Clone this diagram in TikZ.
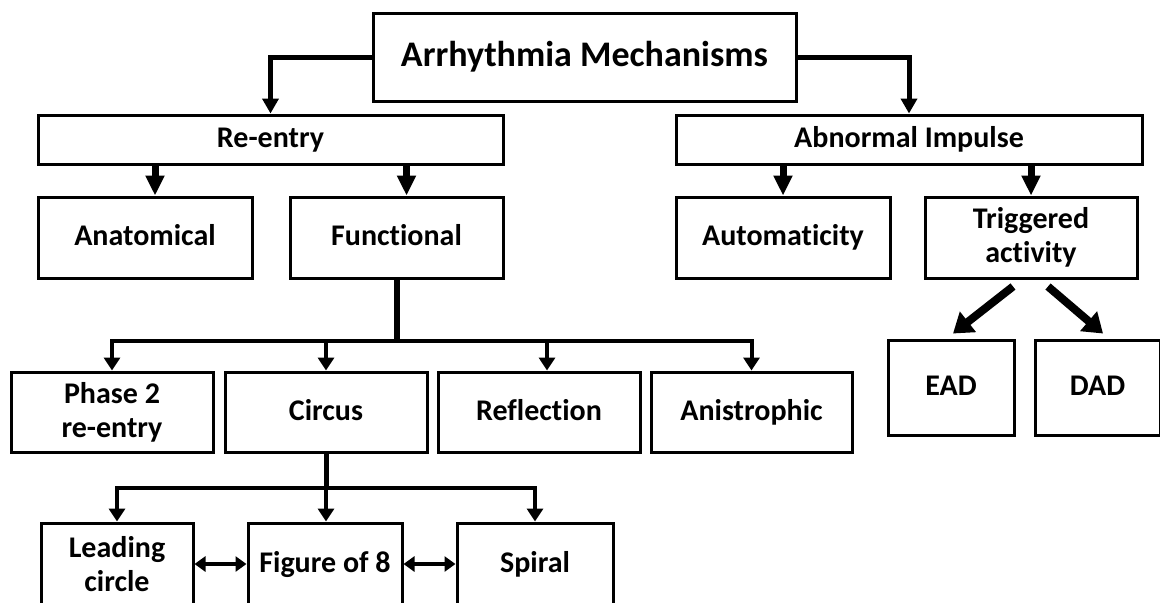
\documentclass[tikz,border=0pt]{standalone}
\usepackage{fontspec}
\setmainfont{Carlito}[Ligatures=NoCommon]
\usetikzlibrary{positioning,arrows.meta,calc}

\begin{document}
\begin{tikzpicture}[
  x=0.5pt,y=-0.5pt,
  box/.style={draw=black,line width=1.5pt,align=center,inner sep=0pt,fill=white,
    font=\bfseries\fontsize{15}{17}\selectfont},
  one/.style={text height=10.8pt,text depth=2.6pt},
  midbox/.style={box,minimum width=107pt,minimum height=40.5pt},
  lowbox/.style={box,minimum width=101pt,minimum height=40pt},
  endbox/.style={box,minimum width=77pt,minimum height=41pt},
  ar/.style={-{Triangle[width=8pt,length=6.5pt]},line width=2pt},
  topar/.style={-{Triangle[width=8pt,length=7.5pt]},line width=2.5pt},
  shortar/.style={-{Triangle[width=9pt,length=10pt]},line width=3.5pt},
  fat/.style={-{Triangle[width=12.5pt,length=9.5pt]},line width=4pt},
  branch/.style={{Triangle[width=8pt,length=6.5pt]}-{Triangle[width=8pt,length=6.5pt]},line width=2pt},
  dar/.style={{Triangle[width=7.5pt,length=5.5pt]}-{Triangle[width=7.5pt,length=5.5pt]},line width=2pt},
  node distance=9pt]
  \useasboundingbox (0,0) rectangle (1160,602);
  \clip (0,0) rectangle (1160,602);
  % top level
  \node[box,minimum width=211.5pt,minimum height=44pt,text height=13pt,text depth=3.5pt,font=\bfseries\fontsize{18}{21}\selectfont] (top) at (584.5,57) {Arrhythmia Mechanisms};
  \node[box,one,minimum width=232.5pt,minimum height=24.5pt] (reentry) at (270.5,139.5) {Re-entry};
  \node[box,one,minimum width=233pt,minimum height=24.5pt] (abnormal) at (909,139.5) {Abnormal Impulse};
  % second level
  \node[midbox,one] (anatomical) at (145,237.5) {Anatomical};
  \node[midbox,one,minimum width=106.5pt] (functional) at (396.5,237.5) {Functional};
  \node[midbox,one] (automaticity) at (783,237.5) {Automaticity};
  \node[midbox,minimum width=106pt] (triggered) at (1031,237.5) {Triggered\\ activity};
  % functional re-entry
  \node[lowbox] (phase2) at (112,412) {Phase 2\\ re-entry};
  \node[lowbox,one] (circus) at (326,412) {Circus};
  \node[lowbox,one] (reflection) at (539,412) {Reflection};
  \node[lowbox,one,minimum width=100.5pt] (anistrophic) at (751.5,412) {Anistrophic};
  % triggered activity
  \node[box,one,minimum width=63pt,minimum height=47.5pt] (ead) at (951,387.5) {EAD};
  \node[box,one,minimum width=62.5pt,minimum height=47.5pt,right=of ead] (dad) {DAD};
  % circus
  \node[endbox,minimum width=76pt] (leading) at (117,564) {Leading\\ circle};
  \node[endbox,one] (figure) at (325,564) {Figure of 8};
  \node[endbox,one,minimum width=78pt] (spiral) at (535,564) {Spiral};
  \coordinate (fj) at (396.5,341);
  \coordinate (cj) at (326,488);
  \draw[topar] (top.west) -| (reentry.north);
  \draw[topar] (top.east) -| (abnormal.north);
  \draw[shortar] ($(anatomical.north |- reentry.south)+(10,0)$) -- ($(anatomical.north)+(10,0)$);
  \draw[shortar] ($(functional.north |- reentry.south)+(10,0)$) -- ($(functional.north)+(10,0)$);
  \draw[shortar] (automaticity.north |- abnormal.south) -- (automaticity.north);
  \draw[shortar] (triggered.north |- abnormal.south) -- (triggered.north);
  \draw[line width=3pt] (functional.south) -- (fj);
  \draw[branch] (phase2.north) |- (fj) -| (anistrophic.north);
  \draw[ar] (circus.north |- fj) -- (circus.north);
  \draw[ar] ($(reflection.north |- fj)+(8,0)$) -- ($(reflection.north)+(8,0)$);
  \draw[line width=2.5pt] (circus.south) -- (cj);
  \draw[branch] (leading.north) |- (cj) -| (spiral.north);
  \draw[ar] (cj) -- (figure.north -| cj);
  \draw[dar] (leading.east) -- (figure.west);
  \draw[dar] (figure.east) -- (spiral.west);
  \draw[fat] ($(triggered.south)+(-18,7)$) -- ($(ead.north)+(2,-5)$);
  \draw[fat] ($(triggered.south)+(17,7)$) -- ($(dad.north)+(5.5,-5)$);
\end{tikzpicture}
\end{document}
